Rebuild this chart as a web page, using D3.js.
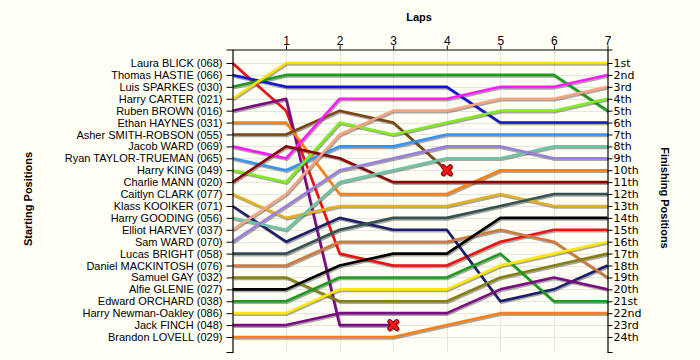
<!DOCTYPE html>
<html>
<head>
<meta charset="utf-8">
<script src="https://cdn.jsdelivr.net/npm/d3@7"></script>
<style>
  html, body { margin: 0; padding: 0; background: #fffff5; }
  svg { display: block; }
</style>
</head>
<body>
<script>
// ---------------- DATA ----------------
const laps = [0, 1, 2, 3, 4, 5, 6, 7];
const lapLabels = ["1", "2", "3", "4", "5", "6", "7"];
const riders = [
  "Laura BLICK (068)", "Thomas HASTIE (066)", "Luis SPARKES (030)", "Harry CARTER (021)",
  "Ruben BROWN (016)", "Ethan HAYNES (031)", "Asher SMITH-ROBSON (055)", "Jacob WARD (069)",
  "Ryan TAYLOR-TRUEMAN (065)", "Harry KING (049)", "Charlie MANN (020)", "Caitlyn CLARK (077)",
  "Klass KOOIKER (071)", "Harry GOODING (056)", "Elliot HARVEY (037)", "Sam WARD (070)",
  "Lucas BRIGHT (058)", "Daniel MACKINTOSH (076)", "Samuel GAY (032)", "Alfie GLENIE (027)",
  "Edward ORCHARD (038)", "Harry Newman-Oakley (086)", "Jack FINCH (048)", "Brandon LOVELL (029)"
];
// position of each rider at laps 0..7 (shorter array = retired at the last lap listed)
const positions = [
  [1, 5, 17, 18, 18, 16, 15, 15],
  [2, 3, 3, 3, 3, 6, 6, 6],
  [3, 2, 2, 2, 2, 2, 2, 5],
  [4, 1, 1, 1, 1, 1, 1, 1],
  [5, 4, 23, 23],
  [6, 6, 12, 12, 12, 10, 10, 10],
  [7, 7, 5, 6, 10],
  [8, 9, 4, 4, 4, 3, 3, 2],
  [9, 10, 8, 8, 7, 7, 7, 7],
  [10, 11, 6, 7, 6, 5, 5, 4],
  [11, 8, 9, 11, 11, 11, 11, 11],
  [12, 14, 13, 13, 13, 12, 13, 13],
  [13, 16, 14, 15, 15, 21, 20, 18],
  [14, 15, 11, 10, 9, 9, 8, 8],
  [15, 12, 7, 5, 5, 4, 4, 3],
  [16, 13, 10, 9, 8, 8, 9, 9],
  [17, 17, 15, 14, 14, 13, 12, 12],
  [18, 18, 16, 16, 16, 15, 16, 19],
  [19, 19, 21, 21, 21, 19, 18, 17],
  [20, 20, 18, 17, 17, 14, 14, 14],
  [21, 21, 19, 19, 19, 17, 21, 21],
  [22, 22, 20, 20, 20, 18, 17, 16],
  [23, 23, 22, 22, 22, 20, 19, 20],
  [24, 24, 24, 24, 23, 22, 22, 22]
];
const retired = [false, false, false, false, true, false, true, false, false, false, false, false,
                 false, false, false, false, false, false, false, false, false, false, false, false];
const finishLabels = [
  "1st", "2nd", "3rd", "4th", "5th", "6th", "7th", "8th", "9th", "10th", "11th", "12th",
  "13th", "14th", "15th", "16th", "17th", "18th", "19th", "20th", "21st", "22nd", "23rd", "24th"
];

// ---------------- STYLE ----------------
const palette = [
  "#f01010", "#1414d2", "#1c9c1c", "#ffe000", "#7d0a85", "#ff8010", "#7a4614", "#ff1cff",
  "#3595f5", "#80ec20", "#8a0606", "#e2b022", "#1e1e6e", "#6cc4a4", "#f8a482", "#9a80dc",
  "#355252", "#cf7a3c", "#85800f", "#000000", "#1c9c1c", "#ffe800", "#7d0a85", "#ff8010"
];

const W = 700, H = 360;
const svg = d3.select("body").append("svg").attr("width", W).attr("height", H);
svg.append("rect").attr("width", W).attr("height", H).attr("fill", "#fffff5");

const x = d3.scaleLinear().domain([0, 7]).range([232.5, 607.5]);
const y = d3.scaleLinear().domain([1, 24]).range([63, 337]);
const yTop = 49.5, yBot = 352;
const yAx = d3.scaleLinear().domain([y.invert(yTop), y.invert(yBot)]).range([yTop, yBot]);
const posTicks = d3.range(1, riders.length + 1);

// grid
const grid = svg.append("g");
grid.selectAll("line.h").data(posTicks).join("line")
  .attr("x1", x(0)).attr("x2", x(7))
  .attr("y1", d => Math.round(y(d)) + 0.5).attr("y2", d => Math.round(y(d)) + 0.5)
  .attr("stroke", "#e6e6e0").attr("stroke-width", 1);
grid.selectAll("line.v").data(laps.slice(1, 7)).join("line")
  .attr("x1", d => Math.round(x(d)) + 0.5).attr("x2", d => Math.round(x(d)) + 0.5)
  .attr("y1", yTop).attr("y2", yBot)
  .attr("stroke", "#e6e6e0").attr("stroke-width", 1);

// series
const line = d3.line().x((d, i) => x(laps[i])).y(d => y(d));
const series = positions.map((p, i) => ({ p, i }));

svg.append("g").attr("transform", "translate(1,1.5)")
  .selectAll("path").data(series).join("path")
  .attr("d", d => line(d.p))
  .attr("fill", "none").attr("stroke", "rgba(60,60,60,0.45)").attr("stroke-width", 2.6)
  .attr("stroke-linejoin", "round");

svg.append("g").selectAll("path").data(series).join("path")
  .attr("d", d => line(d.p))
  .attr("fill", "none").attr("stroke", d => palette[d.i]).attr("stroke-width", 2.6)
  .attr("stroke-linejoin", "round");

// retirement markers
const rets = series.filter(d => retired[d.i]);
const mk = svg.append("g").selectAll("g").data(rets).join("g")
  .attr("transform", d => `translate(${x(laps[d.p.length - 1])},${y(d.p[d.p.length - 1])})`);
const xPath = "M-3.5,-3.5L3.5,3.5M3.5,-3.5L-3.5,3.5";
mk.append("path").attr("d", xPath).attr("transform", "translate(1,1)")
  .attr("stroke", "rgba(60,60,60,0.5)").attr("stroke-width", 4.5).attr("stroke-linecap", "round");
mk.append("path").attr("d", xPath)
  .attr("stroke", "#8a0000").attr("stroke-width", 5).attr("stroke-linecap", "round");
mk.append("path").attr("d", xPath)
  .attr("stroke", "#ff1a1a").attr("stroke-width", 2.8).attr("stroke-linecap", "round");

// axes
const leftAxis = svg.append("g").attr("transform", `translate(${x(0)},0)`)
  .call(d3.axisLeft(yAx).tickValues(posTicks).tickFormat(d => riders[d - 1])
    .tickSize(6).tickSizeOuter(6).tickPadding(4));
leftAxis.selectAll("text").attr("font-family", "'Liberation Sans', Arial, sans-serif")
  .attr("font-size", 11).attr("fill", "#000");

const rightAxis = svg.append("g").attr("transform", `translate(${x(7)},0)`)
  .call(d3.axisRight(yAx).tickValues(posTicks).tickFormat(d => finishLabels[d - 1])
    .tickSize(5).tickSizeOuter(5).tickPadding(1));
rightAxis.selectAll("text").attr("font-family", "'DejaVu Sans', Verdana, sans-serif")
  .attr("font-size", 11).attr("fill", "#000");

const topAxis = svg.append("g").attr("transform", `translate(0,${yTop})`)
  .call(d3.axisTop(x).tickValues(laps.slice(1)).tickFormat(d => lapLabels[d - 1])
    .tickSize(4).tickSizeOuter(0).tickPadding(1));
topAxis.selectAll("text").attr("font-family", "'Liberation Sans', Arial, sans-serif")
  .attr("font-size", 12).attr("fill", "#000");

[leftAxis, rightAxis, topAxis].forEach(g => {
  g.select(".domain").attr("stroke", "#000").attr("stroke-width", 1.2);
  g.selectAll(".tick line").attr("stroke", "#000");
});

// titles
const bold = "'Liberation Sans', Arial, sans-serif";
svg.append("text").attr("x", 419).attr("y", 21).attr("text-anchor", "middle")
  .attr("font-family", bold).attr("font-weight", "bold").attr("font-size", 11).text("Laps");
svg.append("text").attr("transform", "translate(32,199) rotate(-90)").attr("text-anchor", "middle")
  .attr("font-family", bold).attr("font-weight", "bold").attr("font-size", 11).text("Starting Positions");
svg.append("text").attr("transform", "translate(661,198) rotate(90)").attr("text-anchor", "middle")
  .attr("font-family", bold).attr("font-weight", "bold").attr("font-size", 11).text("Finishing Positions");
</script>
</body>
</html>
